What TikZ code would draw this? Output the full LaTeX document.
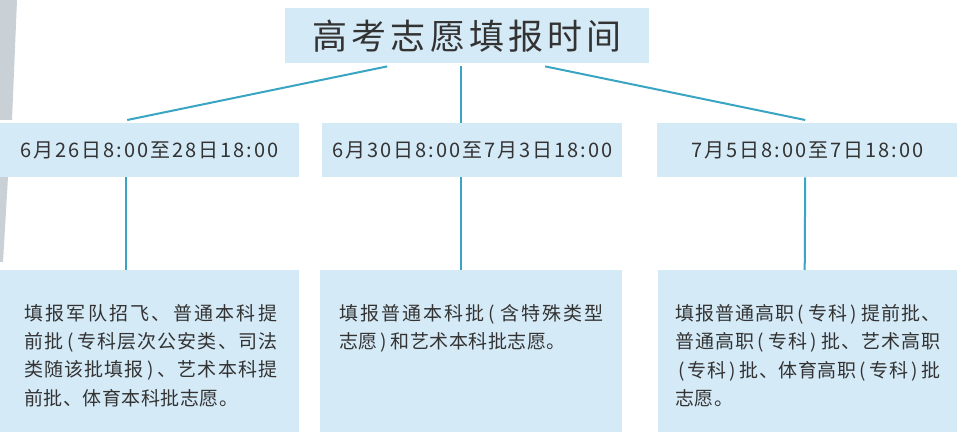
\documentclass[tikz,border=0pt]{standalone}
\usepackage{fontspec}
\setmainfont{Noto Sans CJK SC}
\newfontfamily\titlefont[LetterSpace=12]{Noto Sans CJK SC}
\newfontfamily\datefont[LetterSpace=10]{Noto Sans CJK SC}
\newfontfamily\bodyfont{Noto Sans CJK SC}
\definecolor{boxfill}{HTML}{D5EAF7}
\definecolor{linec}{HTML}{3AA5C3}
\definecolor{txt}{HTML}{333333}
\definecolor{greyband}{HTML}{C9D1D7}
\makeatletter
\def\spr@first#1{#1\spr@rest}
\def\spr@rest#1{\ifx#1\relax\else\sepglue#1\expandafter\spr@rest\fi}
\newcommand\jline[2]{\hbox to #1{\let\sepglue\hfil\spr@first#2\relax}}
\newcommand\natline[1]{\hbox{\def\sepglue{\hskip0.5pt}\spr@first#1\relax}}
\makeatother
\newcommand\lp{\makebox[12pt][c]{(}}
\newcommand\rp{\makebox[12pt][c]{)}}
\tikzset{
  x=1pt, y=-1pt,
  box/.style={fill=boxfill, draw=none, inner sep=0pt, anchor=north west},
  conn/.style={draw=linec, line width=2pt},
  bodytext/.style={anchor=north west, inner sep=0pt, align=left, text=txt,
    font=\bodyfont\fontsize{19pt}{28.4pt}\selectfont},
  datetext/.style={text=txt, font=\datefont\fontsize{20pt}{24pt}\selectfont},
}
\begin{document}
\begin{tikzpicture}
\useasboundingbox (0,0) rectangle (960,435);
\fill[white] (0,0) rectangle (960,435);
% decorative grey band at left edge
\fill[greyband] (0,0) -- (17,0) -- (12,120) -- (0,120) -- cycle;
\fill[greyband] (0,177) -- (8,177) -- (3,262) -- (0,262) -- cycle;
% title
\node[box, minimum width=364pt, minimum height=55pt] (title) at (285,8) {};
\node[text=txt, font=\titlefont\fontsize{35pt}{40pt}\selectfont] (ttext) at ([yshift=-1pt]title.center) {高考志愿填报时间};
% date boxes
\node[box, minimum width=300pt, minimum height=54pt] (d1) at (-1,123) {};
\node[box, minimum width=300pt, minimum height=54pt] (d2) at (322,123) {};
\node[box, minimum width=300pt, minimum height=54pt] (d3) at (657,123) {};
\node[datetext] (dt1) at (d1.center) {6月26日8:00至28日18:00};
\node[datetext] (dt2) at (d2.center) {6月30日8:00至7月3日18:00};
\node[datetext] (dt3) at (d3.center) {7月5日8:00至7日18:00};
% body boxes
\node[box, minimum width=300pt, minimum height=162pt] (b1) at (-1,270) {};
\node[box, minimum width=302pt, minimum height=162pt] (b2) at (320,270) {};
\node[box, minimum width=299pt, minimum height=162pt] (b3) at (658,270) {};
\node[bodytext] (bt1) at ([xshift=25pt,yshift=-34pt]b1.north west)
  {\jline{253pt}{填报军队招飞、普通本科提}\\
   \jline{253pt}{前批\lp 专科层次公安类、司法}\\
   \jline{253pt}{类随该批填报\rp 、艺术本科提}\\
   \natline{前批、体育本科批志愿。}};
\node[bodytext] (bt2) at ([xshift=19pt,yshift=-34pt]b2.north west)
  {\jline{264pt}{填报普通本科批\lp 含特殊类型}\\
   \natline{志愿\rp 和艺术本科批志愿。}};
\node[bodytext] (bt3) at ([xshift=17pt,yshift=-34pt]b3.north west)
  {\jline{265pt}{填报普通高职\lp 专科\rp 提前批、}\\
   \jline{265pt}{普通高职\lp 专科\rp 批、艺术高职}\\
   \jline{265pt}{\lp 专科\rp 批、体育高职\lp 专科\rp 批}\\
   \natline{志愿。}};
% connectors
\draw[conn] ([xshift=-80pt,yshift=-3pt]title.south) -- ([xshift=-22pt,yshift=3pt]d1.north);
\draw[conn] ([xshift=-6pt,yshift=-3pt]title.south) -- ([xshift=-11pt]d2.north);
\draw[conn] ([xshift=78pt,yshift=-3pt]title.south) -- ([xshift=-2pt,yshift=3pt]d3.north);
\draw[conn] ([xshift=-23pt]d1.south) -- ([xshift=-23pt]b1.north);
\draw[conn] ([xshift=-11pt]d2.south) -- ([xshift=-10pt]b2.north);
\draw[conn] ([xshift=-2pt]d3.south) -- ([xshift=-3pt]b3.north);
\end{tikzpicture}
\end{document}
